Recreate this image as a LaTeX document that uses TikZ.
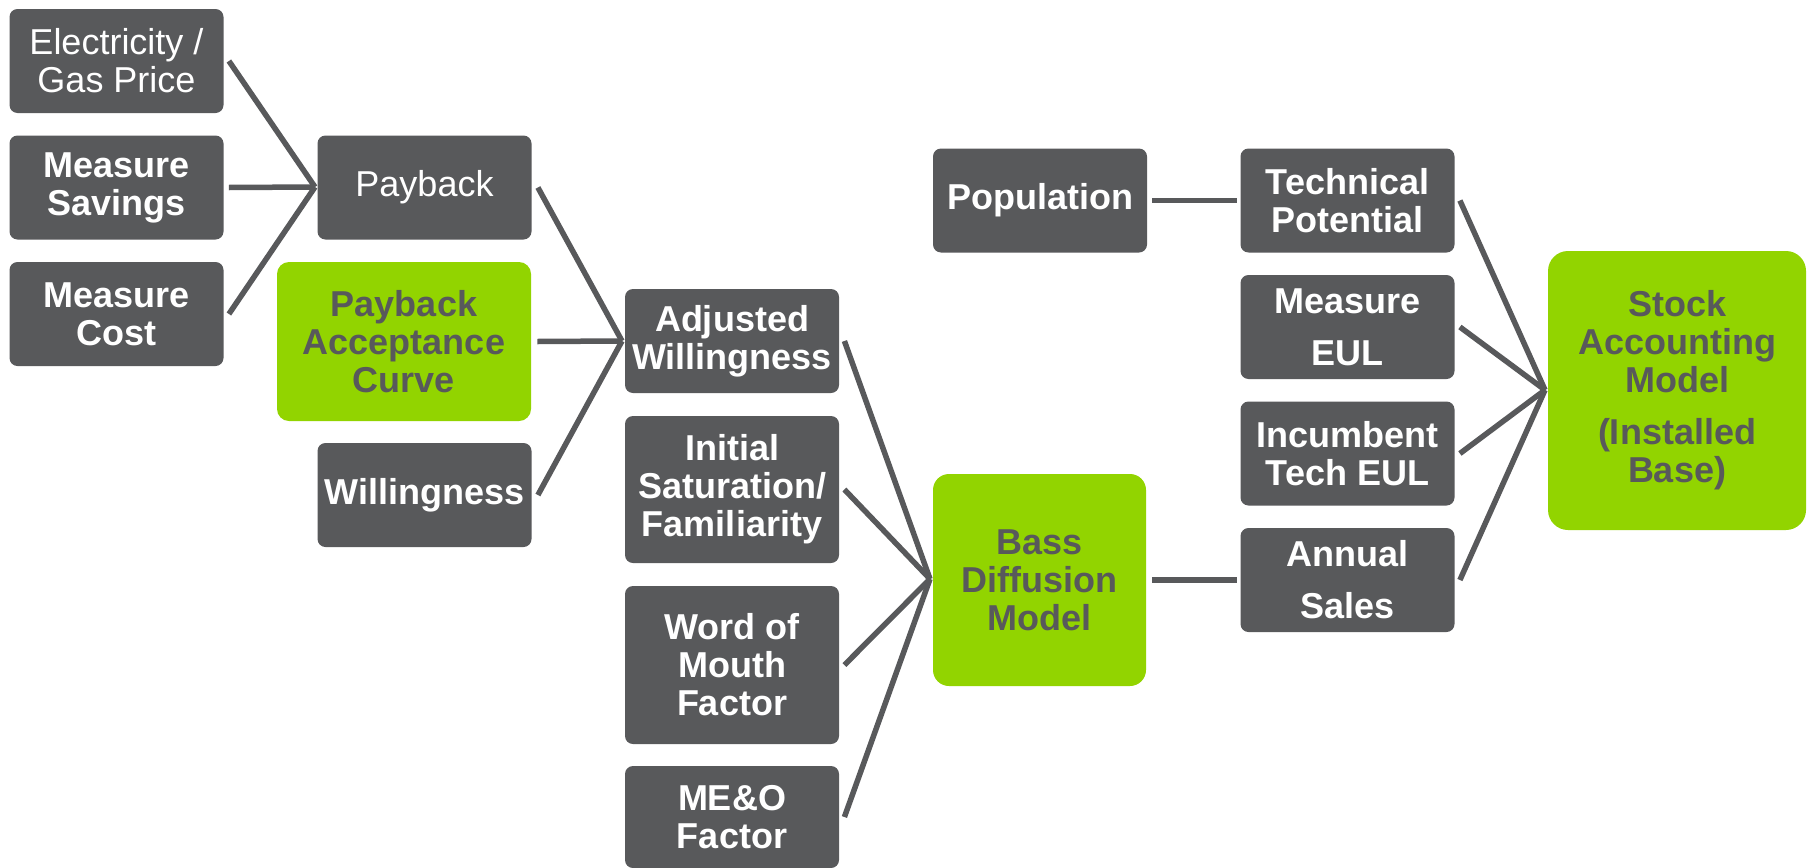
\documentclass[tikz,border=0pt]{standalone}
\usepackage{fontspec}
\setmainfont{Liberation Sans}
\definecolor{dgrey}{HTML}{58595B}
\definecolor{lgreen}{HTML}{92D400}
\tikzset{
  basebox/.style={inner sep=0pt, align=center, font=\bfseries\fontsize{18}{19}\selectfont},
  dbox/.style={basebox, fill=dgrey, text=white, rounded corners=4pt, minimum width=107pt, minimum height=52pt},
  gbox/.style={basebox, fill=lgreen, text=dgrey, rounded corners=8pt},
  plain/.style={font=\fontsize{18}{19}\selectfont},
  link/.style={draw=dgrey, line width=2.75pt},
}
\begin{document}
\begin{tikzpicture}[x=0.5pt,y=-0.5pt]
\clip (0,0) rectangle (1808,867);
\useasboundingbox (0,0) rectangle (1808,867);
\fill[white] (0,0) rectangle (1808,867);
% column 1
\node[dbox, plain] (elec) at (116.5,61) {Electricity /\\Gas Price};
\node[dbox] (msav) at (116.5,187.5) {Measure\\Savings};
\node[dbox] (mcost) at (116.5,314) {Measure\\Cost};
% column 2
\node[dbox, plain] (payback) at (424.5,187.5) {Payback};
\node[gbox, rounded corners=6pt, minimum width=127pt, minimum height=79.5pt] (pac) at (404,341.5) {Payback\\Acceptance\\Curve};
\node[dbox] (will) at (424.5,495) {Willingness};
% column 3
\node[dbox] (aw) at (732,341) {Adjusted\\Willingness};
\node[dbox, minimum height=73.5pt] (init) at (732,489.5) {Initial\\Saturation/\\Familiarity};
\node[dbox, minimum height=79pt] (wom) at (732,665) {Word of\\Mouth\\Factor};
\node[dbox, minimum height=51pt] (meo) at (732,817) {ME\&O\\Factor};
% column 4
\node[dbox] (pop) at (1040,200.5) {Population};
\node[gbox, minimum width=106.5pt, minimum height=106pt] (bass) at (1039.5,580) {Bass\\Diffusion\\Model};
% column 5
\node[dbox] (tp) at (1347.5,200.5) {Technical\\Potential};
\node[dbox] (meul) at (1347.5,327) {Measure\\[7pt]EUL};
\node[dbox] (inc) at (1347.5,453.5) {Incumbent\\Tech EUL};
\node[dbox] (as) at (1347.5,580) {Annual\\[7pt]Sales};
% column 6
\node[gbox, rounded corners=10pt, minimum width=129pt, minimum height=139.5pt] (stock) at (1677,390.5) {Stock\\Accounting\\Model\\[7pt](Installed\\Base)};
% junctions
\coordinate (j1) at (315,187);
\coordinate (j2) at (622,341);
\coordinate (j3) at (930,579);
\coordinate (j4) at (1545,390);
% connectors
\draw[link] ([xshift=2.5pt]elec.east) -- (j1);
\draw[link] ([xshift=2.5pt]msav.east) -- (j1);
\draw[link] ([xshift=2.5pt]mcost.east) -- (j1);
\draw[link] ([xshift=3pt]payback.east) -- (j2);
\draw[link] ([xshift=3pt]pac.east) -- (j2);
\draw[link] ([xshift=3pt]will.east) -- (j2);
\draw[link] ([xshift=2.5pt]aw.east) -- (j3);
\draw[link] ([xshift=2.5pt]init.east) -- (j3);
\draw[link] ([xshift=2.5pt]wom.east) -- (j3);
\draw[link] ([xshift=2.5pt]meo.east) -- (j3);
\draw[link] ([xshift=2.5pt]pop.east) -- ([xshift=-1.5pt]tp.west);
\draw[link] ([xshift=3pt]bass.east) -- ([xshift=-1.5pt]as.west);
\draw[link] ([xshift=2.5pt]tp.east) -- (j4);
\draw[link] ([xshift=2.5pt]meul.east) -- (j4);
\draw[link] ([xshift=2.5pt]inc.east) -- (j4);
\draw[link] ([xshift=2.5pt]as.east) -- (j4);
\end{tikzpicture}
\end{document}
